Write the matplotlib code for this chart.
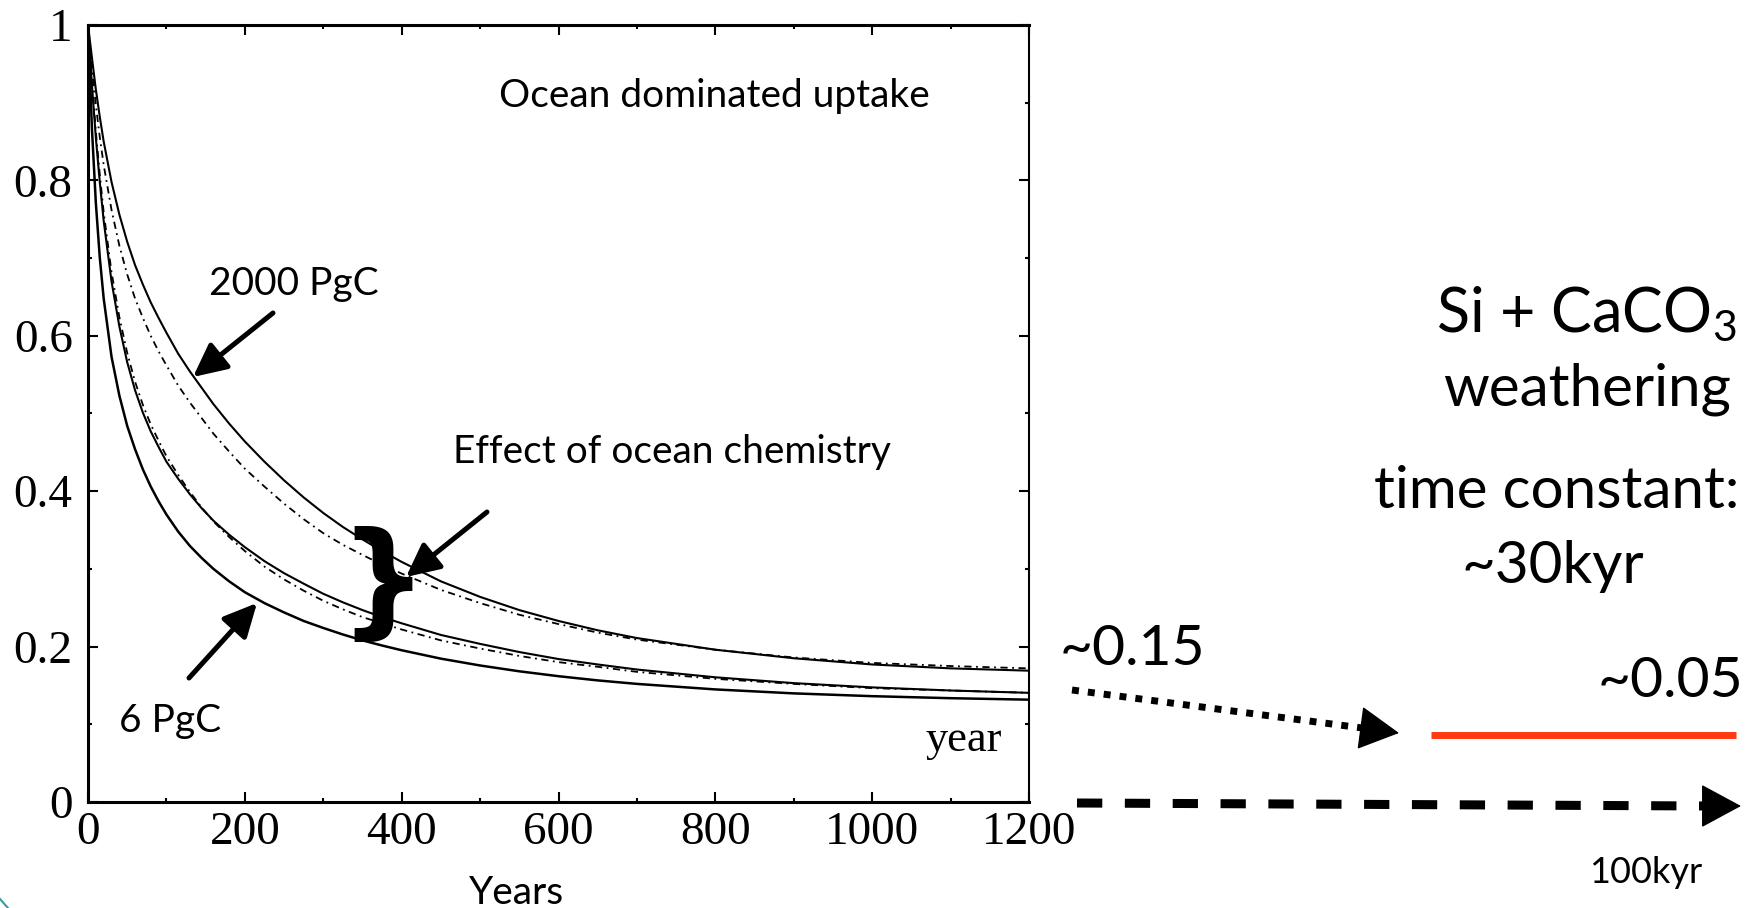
import numpy as np
import matplotlib.pyplot as plt

plt.rcParams['mathtext.fontset'] = 'custom'
plt.rcParams['mathtext.rm'] = 'Lato'

# Fraction of the CO2 pulse remaining in the atmosphere
years = [0, 5, 10, 15, 20, 30, 40, 50, 60, 70, 80, 90, 100, 115, 130, 145, 160, 180, 200,
         225, 250, 275, 300, 325, 350, 375, 400, 450, 500, 550, 600, 650, 700, 800, 900,
         1000, 1100, 1200]
pulse_2000 = [1.0, 0.958, 0.917, 0.882, 0.850, 0.798, 0.756, 0.721, 0.691, 0.666, 0.643,
              0.623, 0.604, 0.577, 0.554, 0.533, 0.512, 0.487, 0.464, 0.438, 0.414, 0.392,
              0.372, 0.354, 0.338, 0.323, 0.309, 0.284, 0.264, 0.247, 0.233, 0.221, 0.211,
              0.196, 0.185, 0.177, 0.172, 0.169]
pulse_2000_chem = [1.0, 0.946, 0.897, 0.856, 0.820, 0.762, 0.716, 0.679, 0.648, 0.623, 0.600,
                   0.580, 0.562, 0.536, 0.514, 0.494, 0.474, 0.451, 0.429, 0.406, 0.384,
                   0.364, 0.346, 0.331, 0.318, 0.3055, 0.294, 0.273, 0.256, 0.241, 0.229,
                   0.218, 0.209, 0.196, 0.186, 0.179, 0.175, 0.172]
pulse_mid = [1.0, 0.923, 0.855, 0.798, 0.748, 0.670, 0.612, 0.566, 0.530, 0.501, 0.477,
             0.457, 0.438, 0.416, 0.396, 0.378, 0.362, 0.344, 0.328, 0.310, 0.2945, 0.281,
             0.268, 0.257, 0.247, 0.238, 0.230, 0.215, 0.2035, 0.193, 0.184, 0.177, 0.1705,
             0.1605, 0.153, 0.1475, 0.1435, 0.1405]
pulse_mid_chem = [1.0, 0.928, 0.863, 0.808, 0.759, 0.682, 0.624, 0.578, 0.541, 0.511, 0.486,
                  0.465, 0.445, 0.421, 0.399, 0.379, 0.361, 0.341, 0.323, 0.303, 0.2865,
                  0.272, 0.259, 0.248, 0.238, 0.230, 0.222, 0.208, 0.1975, 0.188, 0.180,
                  0.174, 0.1675, 0.1585, 0.152, 0.1465, 0.1435, 0.1405]
pulse_6 = [1.0, 0.867, 0.771, 0.701, 0.648, 0.573, 0.523, 0.484, 0.454, 0.428, 0.406, 0.387,
           0.370, 0.348, 0.3295, 0.314, 0.300, 0.284, 0.270, 0.256, 0.244, 0.233, 0.224,
           0.2156, 0.208, 0.2014, 0.1953, 0.1845, 0.1757, 0.1682, 0.1619, 0.1565, 0.152,
           0.1449, 0.1398, 0.1362, 0.1336, 0.1317]

xticks = [0, 200, 400, 600, 800, 1000, 1200]
yticks = [0, 0.2, 0.4, 0.6, 0.8, 1.0]
ytick_labels = ['0', '0.2', '0.4', '0.6', '0.8', '1']

W, H = 1758, 908
fig = plt.figure(figsize=(W / 100, H / 100), dpi=100)
ax = fig.add_axes([88 / W, (H - 802) / H, 941 / W, 777 / H])

dashdot = (0, (4, 2.5, 1, 2.5))
ax.plot(years, pulse_2000, color='black', lw=1.5)
ax.plot(years, pulse_2000_chem, color='black', lw=1.3, linestyle=dashdot)
ax.plot(years, pulse_mid, color='black', lw=1.5)
ax.plot(years, pulse_mid_chem, color='black', lw=1.3, linestyle=dashdot)
ax.plot(years, pulse_6, color='black', lw=1.8)

ax.set_xlim(0, 1200)
ax.set_ylim(0, 1)
ax.set_xticks(xticks)
ax.set_yticks(yticks)
ax.set_yticklabels(ytick_labels)
ax.set_xticks(np.arange(0, 1201, 100), minor=True)
ax.set_yticks(np.arange(0, 1.01, 0.1), minor=True)
ax.tick_params(which='both', direction='in', top=True, right=True, width=1.5,
               labelsize=34, labelfontfamily='Liberation Serif')
ax.tick_params(which='major', length=7)
ax.tick_params(which='minor', length=3)
ax.tick_params(axis='x', pad=7)
ax.tick_params(axis='y', pad=11)
for side in ['left', 'bottom', 'top']:
    ax.spines[side].set_linewidth(2.2)
ax.spines['right'].set_linewidth(1.5)

# overlay in pixel coordinates for the slide annotations
ov = fig.add_axes([0, 0, 1, 1], zorder=5)
ov.set_xlim(0, W)
ov.set_ylim(H, 0)
ov.axis('off')
ov.patch.set_visible(False)

sans = 'Lato'
ov.text(499, 107, 'Ocean dominated uptake', fontsize=28, family=sans, va='baseline')
ov.text(209, 295, '2000 PgC', fontsize=28, family=sans, va='baseline')
ov.text(453, 463, 'Effect of ocean chemistry', fontsize=28, family=sans, va='baseline')
ov.text(119, 732, '6 PgC', fontsize=28, family=sans, va='baseline')
ov.text(926, 751, 'year', fontsize=32, family='Liberation Serif', va='baseline')
ov.text(517, 904, 'Years', fontsize=28, family=sans, va='baseline', ha='center')

arrow = dict(arrowstyle='-|>,head_length=0.45,head_width=0.22', lw=3.6, color='black',
             mutation_scale=45, shrinkA=0, shrinkB=0)
ov.annotate('', xy=(193, 377), xytext=(273, 313), arrowprops=arrow)
ov.annotate('', xy=(406, 577), xytext=(487, 512), arrowprops=arrow)
ov.annotate('', xy=(257, 603), xytext=(189, 678), arrowprops=arrow)
ov.text(383, 586, '}', fontsize=90, family='DejaVu Sans', fontweight='bold',
        ha='center', va='center')

# long-term weathering schematic
ov.text(1586, 332, 'Si + CaCO$_3$', fontsize=44, family=sans, va='baseline', ha='center')
ov.text(1587, 405, 'weathering', fontsize=42, family=sans, va='baseline', ha='center')
ov.text(1557, 508, 'time constant:', fontsize=42, family=sans, va='baseline', ha='center')
ov.text(1553, 583, '~30kyr', fontsize=42, family=sans, va='baseline', ha='center')
ov.text(1060, 665, '~0.15', fontsize=41, family=sans, va='baseline')
ov.text(1743, 697, '~0.05', fontsize=41, family=sans, va='baseline', ha='right')
ov.text(1589, 883, '100kyr', fontsize=26, family=sans, va='baseline')

big_head = dict(arrowstyle='-|>,head_length=0.5,head_width=0.27', lw=1, color='black',
                mutation_scale=53, shrinkA=0, shrinkB=0)
ov.plot([1072, 1370], [690, 729], color='black', lw=5, linestyle=(0, (1, 1.3)),
        dash_capstyle='butt')
ov.annotate('', xy=(1399, 733), xytext=(1365, 728.5), arrowprops=big_head)
ov.plot([1077, 1708], [803, 806], color='black', lw=6.5, linestyle=(0, (2.8, 2.5)),
        dash_capstyle='butt')
ov.annotate('', xy=(1741, 806), xytext=(1705, 806), arrowprops=big_head)
ov.plot([1431, 1736], [735, 735], color='#ff3a12', lw=5, solid_capstyle='butt')

ov.plot([0, 8], [899, 908], color='#3a9a9a', lw=1.5)

fig.savefig('out.png', dpi=100)
